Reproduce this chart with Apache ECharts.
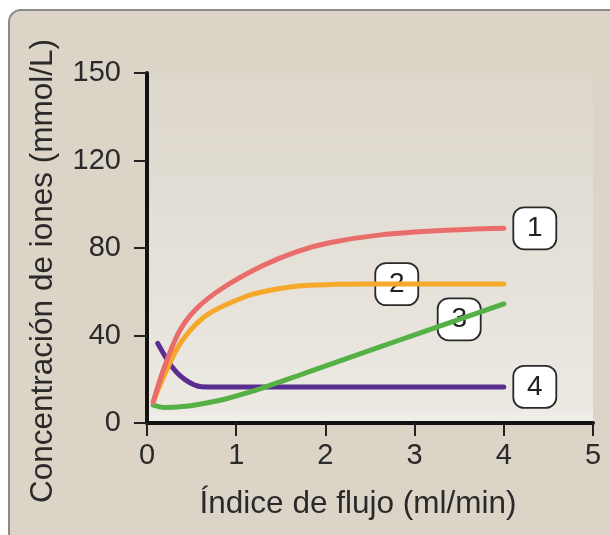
<!DOCTYPE html>
<html>
<head>
<meta charset="utf-8">
<script src="https://cdn.jsdelivr.net/npm/echarts@6/dist/echarts.min.js"></script>
<style>
  html, body { margin: 0; padding: 0; background: #ffffff; }
  #chart { width: 610px; height: 535px; }
</style>
</head>
<body>
<div id="chart"></div>
<script>
// Flow rate (ml/min) on x, ion concentration on y (axis units, 40 per tick step)
const seriesNames = ['1', '2', '3', '4'];
const curve1 = [[0.07, 9.6], [0.17, 22.7], [0.35, 41], [0.54, 51.7], [0.84, 61.5], [1.3, 72], [1.69, 78.5], [2.06, 82.5], [2.62, 86], [3.3, 88], [4.0, 89]];
const curve2 = [[0.07, 9.6], [0.17, 19.7], [0.35, 34.9], [0.54, 44.8], [0.73, 50.9], [1.1, 57.7], [1.3, 60], [1.69, 62.6], [2.06, 63.3], [2.5, 63.5], [2.8, 63.5], [4.0, 63.5]];
const curve3 = [[0.07, 8.2], [0.2, 7.1], [0.4, 7.5], [0.54, 8.2], [0.75, 9.8], [0.91, 11.3], [1.1, 13.5], [1.3, 16.1], [1.5, 18.9], [1.69, 21.6], [2.06, 26.9], [2.62, 34.9], [3.0, 40.3], [3.5, 47.4], [4.0, 54.5]];
const curve4 = [[0.12, 36.4], [0.28, 25.7], [0.43, 19.7], [0.61, 16.6], [0.8, 16.5], [4.0, 16.5]];
// index of the point on each curve that carries its numbered tag
const tagIndex = [10, 10, 13, 5];
const tagShift = [31, 0, 0, 31];
const yTickLabels = ['0', '40', '80', '120', '150'];
const xTickLabels = ['0', '1', '2', '3', '4', '5'];
const colors = ['#e96d6a', '#f6a82b', '#55b046', '#5a2d90'];

const FONT = "'Liberation Sans', Arial, Helvetica, sans-serif";

const curves = [curve1, curve2, curve3, curve4];

const chart = echarts.init(document.getElementById('chart'), null, { renderer: 'canvas' });

chart.setOption({
  animation: false,
  backgroundColor: '#ffffff',
  graphic: [{
    type: 'rect',
    z: -10,
    silent: true,
    shape: { x: 9, y: 10, width: 640, height: 560, r: [12, 0, 0, 0] },
    style: { fill: '#dbd4c7', stroke: '#8d8b87', lineWidth: 2 }
  }],
  grid: {
    left: 147, right: 17, top: 73, bottom: 112,
    outerBoundsMode: 'none',
    show: true,
    borderWidth: 0,
    backgroundColor: {
      type: 'linear', x: 0, y: 0, x2: 0, y2: 1,
      colorStops: [
        { offset: 0, color: '#ddd7cc' },
        { offset: 0.6, color: '#e6e2da' },
        { offset: 0.95, color: '#ece9e3' },
        { offset: 1, color: '#f1efea' }
      ]
    }
  },
  xAxis: {
    type: 'value',
    min: 0, max: 5, interval: 1,
    name: 'Índice de flujo (ml/min)',
    nameLocation: 'middle',
    nameGap: 65,
    nameTextStyle: { fontFamily: FONT, fontSize: 31.5, color: '#2a2a2a', padding: [0, 24, 0, 0] },
    axisLine: { show: true, onZero: false, lineStyle: { color: '#111', width: 4 } },
    axisTick: { show: true, length: 13, lineStyle: { color: '#222', width: 2 } },
    axisLabel: {
      fontFamily: FONT, fontSize: 29, color: '#2a2a2a', margin: 18,
      formatter: v => xTickLabels[Math.round(v)]
    },
    splitLine: { show: false }
  },
  yAxis: {
    type: 'value',
    min: 0, max: 160, interval: 40,
    name: 'Concentración de iones (mmol/L)',
    nameLocation: 'middle',
    nameGap: 88,
    nameRotate: 90,
    nameTextStyle: { fontFamily: FONT, fontSize: 31.5, color: '#2a2a2a', padding: [0, 46, 0, 0] },
    axisLine: { show: true, onZero: false, lineStyle: { color: '#111', width: 4 } },
    axisTick: { show: true, length: 13, lineStyle: { color: '#222', width: 2 } },
    axisLabel: {
      fontFamily: FONT, fontSize: 29, color: '#2a2a2a', margin: 26,
      formatter: v => yTickLabels[Math.round(v / 40)]
    },
    splitLine: { show: false }
  },
  series: curves.map((pts, k) => ({
    type: 'line',
    name: seriesNames[k],
    data: pts,
    smooth: 0.3,
    showSymbol: false,
    symbol: 'none',
    lineStyle: { color: colors[k], width: 5, cap: 'round' },
    itemStyle: { color: colors[k] },
    markPoint: {
      silent: true,
      data: [{
        coord: pts[tagIndex[k]],
        symbol: 'roundRect',
        symbolSize: [43, 42],
        symbolOffset: [tagShift[k], 0],
        itemStyle: { color: '#ffffff', borderColor: '#2a2a2a', borderWidth: 1.8 },
        label: {
          show: true,
          position: 'inside',
          formatter: seriesNames[k],
          fontFamily: FONT,
          fontSize: 28,
          color: '#222'
        }
      }]
    },
    z: 10 - k
  }))
});
</script>
</body>
</html>
